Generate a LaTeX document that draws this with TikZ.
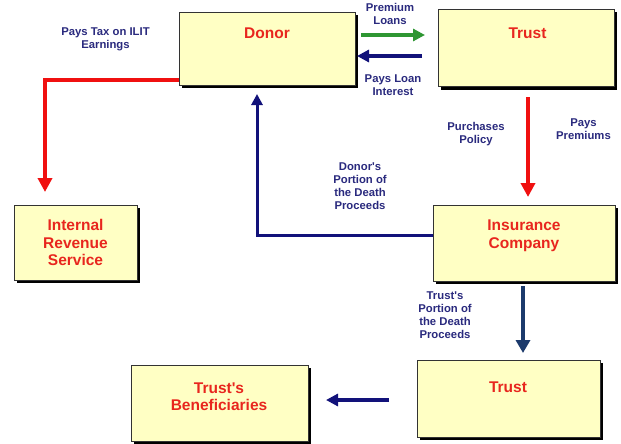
\documentclass[tikz,border=0pt]{standalone}
\usepackage{fontspec}
\setmainfont{Liberation Sans}
\usetikzlibrary{arrows.meta,shadows}
\definecolor{boxfill}{HTML}{FFFFC4}
\definecolor{boxred}{HTML}{E8261E}
\definecolor{lblnavy}{HTML}{2A2A7E}
\definecolor{arrred}{HTML}{F01010}
\definecolor{arrgreen}{HTML}{2E9632}
\definecolor{arrnavy}{HTML}{12127A}
\definecolor{arrsteel}{HTML}{1C3A6C}
\tikzset{
  box/.style={draw=black!80, line width=0.8pt, fill=boxfill, inner sep=0pt,
    drop shadow={shadow xshift=3pt, shadow yshift=-3pt, fill=black, opacity=1}},
  boxtext/.style={text=boxred, font=\fontsize{15.5}{17.5}\selectfont\bfseries, align=center, inner sep=0pt},
  lbl/.style={text=lblnavy, font=\fontsize{11.3}{12.8}\selectfont\bfseries, align=center, inner sep=0pt},
  redarr/.style={draw=arrred, line width=4pt, -{Triangle[length=14pt,width=14pt]}},
  greenarr/.style={draw=arrgreen, line width=4pt, -{Triangle[length=12pt,width=12pt]}},
  navyarr/.style={draw=arrnavy, line width=4pt, -{Triangle[length=12pt,width=12pt]}},
  navythin/.style={draw=arrnavy, line width=3pt, -{Triangle[length=11pt,width=11pt]}},
  steelarr/.style={draw=arrsteel, line width=4pt, -{Triangle[length=13pt,width=14pt]}},
}
\begin{document}
\begin{tikzpicture}[x=1pt,y=-1pt]
\useasboundingbox[fill=white] (0,0) rectangle (621,444);
% boxes
\node[box, minimum width=176pt, minimum height=73pt] (donor) at (267,48.5) {};
\node[box, minimum width=176pt, minimum height=77pt] (trust) at (526,48) {};
\node[box, minimum width=123pt, minimum height=75pt] (irs) at (75.5,242.5) {};
\node[box, minimum width=182pt, minimum height=76pt] (ins) at (524,243) {};
\node[box, minimum width=183pt, minimum height=77pt] (trustb) at (508.5,398.5) {};
\node[box, minimum width=177pt, minimum height=76pt] (benef) at (219.5,403) {};
% box texts
\node[boxtext] (donorT) at (267,33) {Donor};
\node[boxtext] (trustT) at (527.5,33) {Trust};
\node[boxtext] (irsT) at (75.5,242.5) {Internal\\Revenue\\Service};
\node[boxtext] (insT) at (524,236) {Insurance\\Company};
\node[boxtext] (trustbT) at (508,387.5) {Trust};
\node[boxtext] (benefT) at (219,396.5) {Trust\textquotesingle s\\Beneficiaries};
% labels
\node[lbl] (l1) at (105.5,39.5) {Pays Tax on ILIT\\Earnings};
\node[lbl] (l2) at (390,14) {Premium\\Loans};
\node[lbl] (l3) at (393,85) {Pays Loan\\Interest};
\node[lbl] (l4) at (476,134) {Purchases\\Policy};
\node[lbl] (l5) at (583.5,129) {Pays\\Premiums};
\node[lbl] (l6) at (360,186) {Donor\textquotesingle s\\Portion of\\the Death\\Proceeds};
\node[lbl] (l7) at (445,315) {Trust\textquotesingle s\\Portion of\\the Death\\Proceeds};
% connector end points
\coordinate (irsTip) at (45,192);
\coordinate (gS) at (361,35);
\coordinate (gE) at (425,35);
\coordinate (bS) at (422,56);
\coordinate (bE) at (357,56);
\coordinate (rS) at (528,97);
\coordinate (rE) at (528,197);
\coordinate (dTip) at (257,94);
\coordinate (sS) at (523,286);
\coordinate (sE) at (523,353);
\coordinate (lS) at (389,400);
\coordinate (lE) at (326,400);
% connectors
\draw[redarr] (donor.west |- 0,80) -| (irsTip);
\draw[greenarr] (gS) -- (gE);
\draw[navyarr] (bS) -- (bE);
\draw[redarr] (rS) -- (rE);
\draw[navythin] (ins.west |- 0,235) -| (dTip);
\draw[steelarr] (sS) -- (sE);
\draw[navyarr] (lS) -- (lE);
\end{tikzpicture}
\end{document}
